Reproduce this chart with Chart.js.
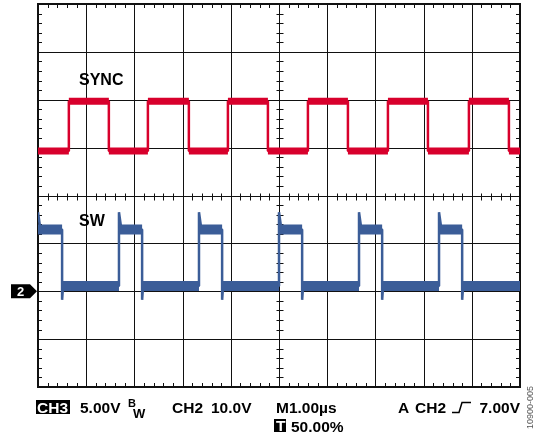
<!DOCTYPE html>
<html>
<head>
<meta charset="utf-8">
<script src="https://cdn.jsdelivr.net/npm/chart.js@4/dist/chart.umd.min.js"></script>
<style>
html,body{margin:0;padding:0;background:#fff;}
#wrap{width:537px;height:440px;}
</style>
</head>
<body>
<div id="wrap"><canvas id="scope" width="537" height="440"></canvas></div>
<script>
// time base 1us/div, 10 divisions
const timeDivs = [0,1,2,3,4,5,6,7,8,9,10];
const vertDivs = [-4,-3,-2,-1,0,1,2,3,4];

// CH3 = SYNC (5V/div), edge times in us
const syncRise = [0.64, 2.28, 3.94, 5.60, 7.26, 8.94];
const syncFall = [1.47, 3.13, 4.77, 6.43, 8.09, 9.77];
const syncLevels = [-0.35, 4.85]; // low, high (V)

// CH2 = SW (10V/div)
const swRise = [1.68, 3.34, 5.00, 6.66, 8.32];
const swFall = [0.50, 2.16, 3.82, 5.48, 7.14, 8.80];
const swLevels = [1.1, 12.9];     // low, high (V)
const swSpikes = [16.5, -1.8];    // overshoot on rise, undershoot on fall

const RED = '#d8002c';
const BLUE = '#3b5d98';
const FONT = '"Liberation Sans", Arial, Helvetica, sans-serif';

function edgesOf(rise, fall){
    return rise.map(t => ({t, up:true}))
        .concat(fall.map(t => ({t, up:false})))
        .sort((a,b) => a.t - b.t);
}

// thin trace incl. the edges
function trace(rise, fall, levels, spikes, startHigh){
    const pts = [];
    let lvl = startHigh ? levels[1] : levels[0];
    if (startHigh && spikes){
        pts.push({x:0, y:spikes[0]}, {x:0.05, y:levels[1]});
    } else {
        pts.push({x:0, y:lvl});
    }
    edgesOf(rise, fall).forEach(e => {
        pts.push({x:e.t, y:lvl});
        lvl = e.up ? levels[1] : levels[0];
        if (spikes){
            pts.push({x:e.t, y:e.up ? spikes[0] : spikes[1]});
            pts.push({x:e.t + (e.up ? 0.05 : 0.02), y:lvl});
        } else {
            pts.push({x:e.t, y:lvl});
        }
    });
    pts.push({x:10, y:lvl});
    return pts;
}

// thick noisy band on the flat parts
function bands(rise, fall, levels, startHigh){
    const pts = [];
    let lvl = startHigh ? levels[1] : levels[0];
    let from = 0;
    edgesOf(rise, fall).forEach(e => {
        pts.push({x:from, y:lvl}, {x:e.t, y:lvl}, {x:e.t, y:null});
        lvl = e.up ? levels[1] : levels[0];
        from = e.t;
    });
    pts.push({x:from, y:lvl}, {x:10, y:lvl});
    return pts;
}

const graticule = {
    id: 'graticule',
    beforeDatasetsDraw(chart){
        const {ctx, chartArea:a, scales} = chart;
        const xs = scales.x, ys = scales.div;
        const px = v => Math.round(xs.getPixelForValue(v)) + 0.5;
        const py = v => Math.round(ys.getPixelForValue(v)) + 0.5;
        ctx.save();
        ctx.strokeStyle = '#111';
        ctx.lineWidth = 1;
        ctx.beginPath();
        timeDivs.slice(1, -1).forEach(v => { ctx.moveTo(px(v), a.top); ctx.lineTo(px(v), a.bottom); });
        vertDivs.slice(1, -1).forEach(v => { ctx.moveTo(a.left, py(v)); ctx.lineTo(a.right, py(v)); });
        // minor ticks, 5 per division
        const cx = px(5), cy = py(0);
        for (let i = 1; i < 50; i++){
            if (i % 5 === 0) continue;
            const x = px(i / 5);
            ctx.moveTo(x, a.top); ctx.lineTo(x, a.top + 4);
            ctx.moveTo(x, a.bottom); ctx.lineTo(x, a.bottom - 4);
            ctx.moveTo(x, cy - 3); ctx.lineTo(x, cy + 4);
        }
        for (let i = 1; i < 40; i++){
            if (i % 5 === 0) continue;
            const y = py(-4 + i / 5);
            ctx.moveTo(a.left, y); ctx.lineTo(a.left + 4, y);
            ctx.moveTo(a.right, y); ctx.lineTo(a.right - 4, y);
            ctx.moveTo(cx - 3, y); ctx.lineTo(cx + 4, y);
        }
        ctx.stroke();
        ctx.lineWidth = 2;
        ctx.strokeRect(a.left, a.top, a.right - a.left, a.bottom - a.top);
        ctx.restore();
    },
    afterDraw(chart){
        const {ctx, scales} = chart;
        ctx.save();
        ctx.fillStyle = '#000';
        ctx.textBaseline = 'alphabetic';
        ctx.font = 'bold 16px ' + FONT;
        ctx.fillText('SYNC', 79, 85);
        ctx.fillText('SW', 79, 226);

        // channel 2 ground marker
        const gy = scales.ySw.getPixelForValue(0);
        ctx.beginPath();
        ctx.moveTo(11, gy - 7); ctx.lineTo(30, gy - 7); ctx.lineTo(37, gy);
        ctx.lineTo(30, gy + 7); ctx.lineTo(11, gy + 7); ctx.closePath();
        ctx.fill();
        ctx.fillStyle = '#fff';
        ctx.font = 'bold 13px ' + FONT;
        ctx.fillText('2', 17, gy + 5);

        // readout line
        ctx.fillStyle = '#000';
        ctx.fillRect(36, 400, 34, 14);
        ctx.fillRect(274, 419, 12, 13);
        ctx.font = 'bold 15.5px ' + FONT;
        ctx.fillStyle = '#fff';
        ctx.fillText('CH3', 37, 413);
        ctx.fillText('T', 276, 431);
        ctx.fillStyle = '#000';
        ctx.fillText('5.00V', 80, 413);
        ctx.fillText('CH2', 172, 413);
        ctx.fillText('10.0V', 211, 413);
        ctx.fillText('M1.00µs', 276, 413);
        ctx.fillText('50.00%', 291, 432);
        ctx.fillText('A', 398, 413);
        ctx.fillText('CH2', 415, 413);
        ctx.textAlign = 'right';
        ctx.fillText('7.00V', 520, 413);
        ctx.textAlign = 'left';
        ctx.font = 'bold 11px ' + FONT;
        ctx.fillText('B', 128, 407);
        ctx.font = 'bold 13px ' + FONT;
        ctx.fillText('W', 133, 418);
        // trigger slope symbol
        ctx.lineWidth = 1.5;
        ctx.beginPath();
        ctx.moveTo(452, 412.5); ctx.lineTo(459, 412.5); ctx.lineTo(462, 402.5); ctx.lineTo(471, 402.5);
        ctx.stroke();
        // figure number
        ctx.translate(533, 386);
        ctx.rotate(-Math.PI / 2);
        ctx.textAlign = 'right';
        ctx.fillStyle = '#555';
        ctx.font = '9px ' + FONT;
        ctx.fillText('10900-005', 0, 0);
        ctx.restore();
    }
};

const datasets = [
    {data: bands(syncRise, syncFall, syncLevels, false), yAxisID:'ySync', borderColor:RED, borderWidth:7, borderCapStyle:'butt'},
    {data: trace(syncRise, syncFall, syncLevels, null, false), yAxisID:'ySync', borderColor:RED, borderWidth:2.5},
    {data: bands(swRise, swFall, swLevels, true), yAxisID:'ySw', borderColor:BLUE, borderWidth:10, borderCapStyle:'butt'},
    {data: trace(swRise, swFall, swLevels, swSpikes, true), yAxisID:'ySw', borderColor:BLUE, borderWidth:2.5}
];
datasets.forEach(d => { d.pointRadius = 0; d.tension = 0; d.spanGaps = false; d.fill = false; d.borderJoinStyle = 'bevel'; });

new Chart(document.getElementById('scope'), {
    type: 'line',
    data: {datasets},
    options: {
        responsive: false,
        animation: false,
        events: [],
        layout: {padding: {left:38, right:17, top:4, bottom:53}},
        plugins: {legend:{display:false}, tooltip:{enabled:false}},
        scales: {
            x: {type:'linear', axis:'x', min:0, max:10, display:false},
            ySync: {type:'linear', axis:'y', min:-25, max:15, display:false},
            ySw: {type:'linear', axis:'y', min:-20, max:60, display:false},
            div: {type:'linear', axis:'y', min:-4, max:4, display:false}
        }
    },
    plugins: [graticule]
});
</script>
</body>
</html>
